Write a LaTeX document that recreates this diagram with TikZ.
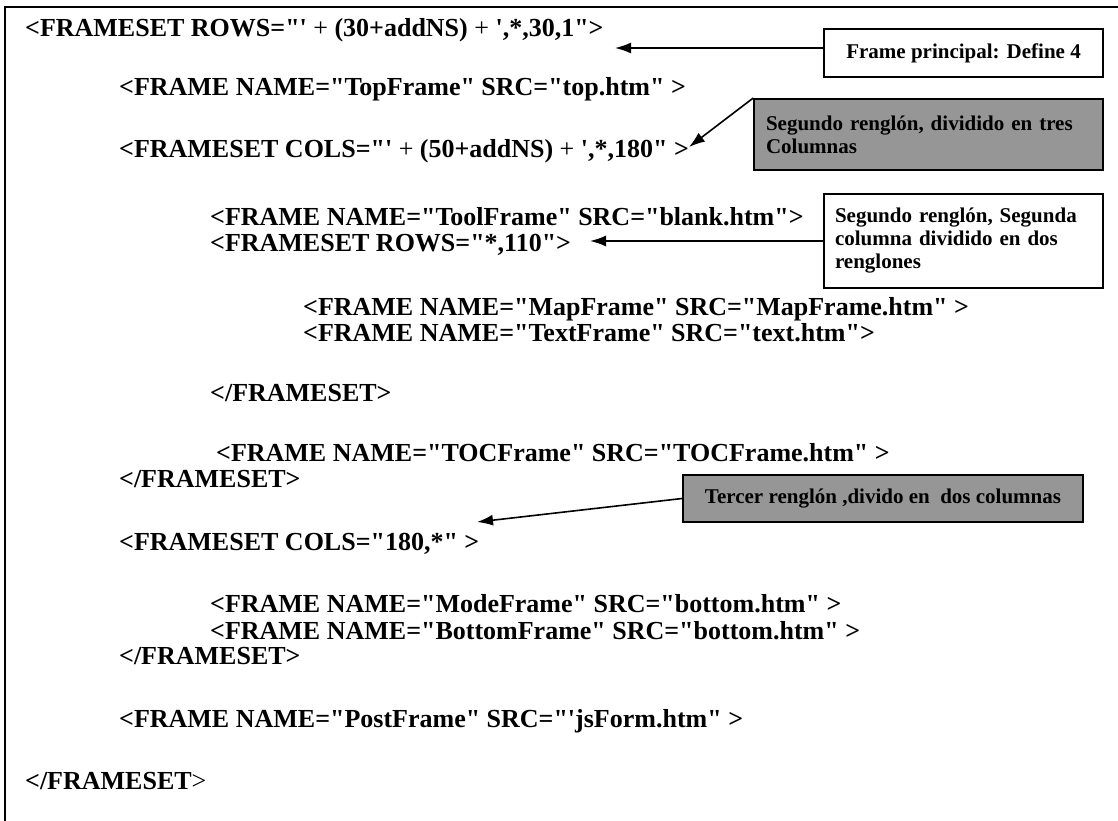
\documentclass[tikz,border=0pt]{standalone}
\usepackage{fontspec}
\newfontfamily\codefont{Liberation Serif}
\usetikzlibrary{arrows.meta}
\definecolor{boxgray}{RGB}{150,150,150}
\begin{document}
\begin{tikzpicture}[x=1pt,y=-1pt,
		code/.style={anchor=base west,inner sep=0pt,font=\codefont\bfseries\fontsize{26}{28}\selectfont},
		note/.style={draw,line width=1.8pt,inner sep=0pt,font=\codefont\bfseries\fontsize{21}{23}\selectfont},
		arr/.style={line width=1.6pt,-{Latex[length=16pt,width=11pt]}}]
			\useasboundingbox (0,0) rectangle (1118,821);
			\draw[line width=1.8pt] (5,830) -- (5,7) -- (1130,7);
			\node[code] (r1) at (25,37) {<FRAMESET ROWS="' {\mdseries+} (30+addNS) {\mdseries+} ',*,30,1">};
			\node[code] (r2) at (119,96) {<FRAME NAME="TopFrame" SRC="top.htm" >};
			\node[code] (r3) at (119,158) {<FRAMESET COLS="' {\mdseries+} (50+addNS) {\mdseries+} ',*,180" >};
			\node[code] (r4) at (210,225) {<FRAME NAME="ToolFrame" SRC="blank.htm">};
			\node[code] (r5) at (210,251) {<FRAMESET ROWS="*,110">};
			\node[code] (r6) at (303,315) {<FRAME NAME="MapFrame" SRC="MapFrame.htm" >};
			\node[code] (r7) at (303,341) {<FRAME NAME="TextFrame" SRC="text.htm">};
			\node[code] (r8) at (210,401) {</FRAMESET>};
			\node[code] (r9) at (216,461) {<FRAME NAME="TOCFrame" SRC="TOCFrame.htm" >};
			\node[code] (r10) at (119,487) {</FRAMESET>};
			\node[code] (r11) at (119,550) {<FRAMESET COLS="180,*" >};
			\node[code] (r12) at (210,612) {<FRAME NAME="ModeFrame" SRC="bottom.htm" >};
			\node[code] (r13) at (210,639) {<FRAME NAME="BottomFrame" SRC="bottom.htm" >};
			\node[code] (r14) at (119,664) {</FRAMESET>};
			\node[code] (r15) at (119,727) {<FRAME NAME="PostFrame" SRC="'jsForm.htm" >};
			\node[code] (r16) at (25,789) {</FRAMESET{\mdseries>}};
			\node[note,minimum width=279pt,minimum height=48pt] (principal) at (963.5,53) {Frame principal: Define 4};
			\node[note,fill=boxgray,minimum width=349pt,minimum height=71pt,text width=325pt,align=left] (columnas) at (928.5,134.5) {Segundo renglón, dividido en tres\\Columnas};
			\node[note,minimum width=279pt,minimum height=94pt,text width=257pt,align=left] (renglones) at (963.5,241) {Segundo renglón, Segunda\\columna dividido en dos\\renglones};
			\node[note,fill=boxgray,minimum width=400pt,minimum height=47pt] (tercer) at (883,498.5) {Tercer renglón ,divido en\ \ dos columnas};
			\coordinate (tipA) at (615,48);
			\coordinate (tipB) at (689,147);
			\coordinate (tipC) at (590,241);
			\coordinate (tipD) at (477,522);
			\draw[arr] (principal.west |- tipA) -- (tipA);
			\draw[arr] (columnas.north west) -- (tipB);
			\draw[arr] (renglones.west |- tipC) -- (tipC);
			\draw[arr] (tercer.west) -- (tipD);
		\end{tikzpicture}
\end{document}
